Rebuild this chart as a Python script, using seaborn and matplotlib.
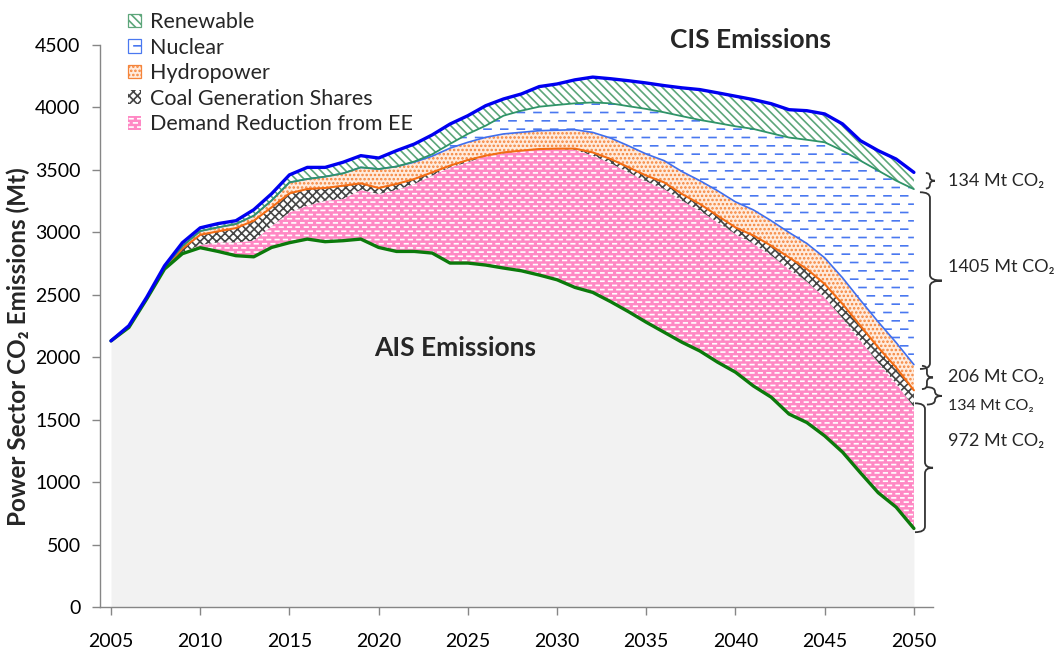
import numpy as np
import pandas as pd
import matplotlib
matplotlib.use("Agg")
import matplotlib.pyplot as plt
import matplotlib.hatch as mhatch
from matplotlib.path import Path
from matplotlib.patches import Patch, PathPatch
import seaborn as sns

# ---------------- data (Mt CO2) ----------------
years = list(range(2005, 2051))
ais = [2131, 2238, 2466, 2706, 2829, 2877, 2847, 2813, 2804, 2879,
       2917, 2946, 2925, 2933, 2946, 2879, 2847, 2847, 2834, 2754,
       2754, 2738, 2714, 2692, 2658, 2620, 2559, 2519, 2445, 2365,
       2280, 2200, 2120, 2050, 1960, 1880, 1770, 1680, 1545, 1477,
       1370, 1240, 1075, 915, 800, 629]
demand = [0, 0, 0, 2, 6, 23, 72, 106, 129, 171,
          243, 267, 328, 334, 393, 428, 492, 540, 620, 766,
          807, 872, 918, 960, 1007, 1047, 1101, 1095, 1107, 1115,
          1127, 1147, 1133, 1123, 1120, 1106, 1140, 1135, 1160, 1128,
          1110, 1070, 1060, 1040, 990, 972]
coal = [0, 3, 4, 6, 35, 80, 89, 115, 160, 150,
        152, 134, 102, 106, 53, 48, 48, 40, 26, 14,
        18, 4, 8, 2, 2, 3, 10, 26, 35, 41,
        47, 53, 54, 54, 53, 53, 65, 78, 94, 101,
        106, 116, 117, 123, 128, 134]
hydro = [0, 7, 4, 8, 20, 30, 32, 33, 40, 55,
         88, 80, 91, 99, 128, 152, 140, 135, 130, 140,
         142, 147, 148, 147, 147, 148, 152, 160, 168, 172,
         173, 174, 180, 187, 200, 205, 205, 200, 200, 205,
         210, 210, 205, 205, 200, 206]
nuclear = [0, 0, 0, 0, 0, 0, 0, 0, 0, 0,
           0, 0, 0, 0, 0, 0, 0, 5, 15, 34,
           67, 93, 146, 173, 192, 202, 211, 240, 278, 317,
           361, 387, 443, 486, 542, 605, 648, 700, 760, 830,
           925, 1018, 1117, 1211, 1296, 1405]
renewable = [0, 4, 6, 10, 27, 26, 30, 26, 48, 54,
             60, 93, 74, 89, 94, 88, 127, 140, 155, 159,
             146, 160, 134, 134, 161, 168, 188, 203, 197, 204,
             208, 214, 227, 243, 242, 241, 235, 237, 223, 233,
             227, 214, 160, 160, 173, 134]

legend_labels = ["Renewable", "Nuclear", "Hydropower",
                 "Coal Generation Shares", "Demand Reduction from EE"]
y_ticks = list(range(0, 4501, 500))
x_ticks = list(range(2005, 2051, 5))

df = pd.DataFrame({"year": years, "ais": ais, "demand": demand, "coal": coal,
                   "hydro": hydro, "nuclear": nuclear, "renewable": renewable})
df["b_dem"] = df.ais + df.demand
df["b_coal"] = df.b_dem + df.coal
df["b_hyd"] = df.b_coal + df.hydro
df["b_nuc"] = df.b_hyd + df.nuclear
df["b_top"] = df.b_nuc + df.renewable


# ---------------- dashed hatch (Excel-like dash pattern for '-') ----------------
class DashedHatch(mhatch.HatchPatternBase):
    def __init__(self, hatch, density):
        self.num_rows = int((hatch.count('-') + hatch.count('+')) * density)
        self.num_cols = max(self.num_rows // 2, 1) if self.num_rows else 0
        self.num_vertices = self.num_rows * self.num_cols * 2

    def set_vertices_and_codes(self, vertices, codes):
        rows, cols = self.num_rows, self.num_cols
        dash = 0.42 / cols
        k = 0
        for i in range(rows):
            y = (i + 0.5) / rows
            shift = 0.5 / cols if i % 2 else 0.0
            for j in range(cols):
                x0 = j / cols + shift + 0.04 / cols
                vertices[k] = (x0, y)
                vertices[k + 1] = (x0 + dash, y)
                codes[k] = Path.MOVETO
                codes[k + 1] = Path.LINETO
                k += 2


mhatch._hatch_types[0] = DashedHatch

# ---------------- style ----------------
sns.set_theme(style="white")
plt.rcParams["font.family"] = ["Lato", "DejaVu Sans"]
plt.rcParams["hatch.linewidth"] = 1.2

fig = plt.figure(figsize=(10.62, 6.54), dpi=100)
ax = fig.add_axes([100 / 1062, 1 - 607 / 654, 833 / 1062, 562 / 654])

x = df.year.values
styles = {
    "Renewable": dict(facecolor="white", edgecolor="#5DA67A", hatch="\\" * 4),
    "Nuclear": dict(facecolor="white", edgecolor="#4A78F0", hatch="--"),
    "Hydropower": dict(facecolor="#FFEBDD", edgecolor="#F5843A", hatch="...."),
    "Coal Generation Shares": dict(facecolor="white", edgecolor="#454545", hatch="xxxx"),
    "Demand Reduction from EE": dict(facecolor="#FF88C4", edgecolor="white", hatch="----"),
}

ax.fill_between(x, 0, df.ais, facecolor="#F2F2F2", lw=0, zorder=1)
ax.fill_between(x, df.ais, df.b_dem, lw=0, zorder=1, **styles["Demand Reduction from EE"])
ax.fill_between(x, df.b_dem, df.b_coal, lw=0, zorder=1, **styles["Coal Generation Shares"])
ax.fill_between(x, df.b_coal, df.b_hyd, lw=0, zorder=1, **styles["Hydropower"])
ax.fill_between(x, df.b_hyd, df.b_nuc, lw=0, zorder=1, **styles["Nuclear"])
ax.fill_between(x, df.b_nuc, df.b_top, lw=0, zorder=1, **styles["Renewable"])

sns.lineplot(data=df, x="year", y="b_coal", color="#F36C14", lw=1.5, ax=ax, zorder=3)
sns.lineplot(data=df, x="year", y="b_hyd", color="#3F6FEF", lw=1.2, ax=ax, zorder=3)
sns.lineplot(data=df, x="year", y="b_nuc", color="#2F9468", lw=1.3, ax=ax, zorder=3)
sns.lineplot(data=df, x="year", y="ais", color="#0B7A0B", lw=2.4, ax=ax, zorder=4)
sns.lineplot(data=df, x="year", y="b_top", color="#0000F0", lw=2.4, ax=ax, zorder=4)

ax.set_xlim(2004.383, 2051.07)
ax.set_ylim(0, 4500)
ax.set_xticks(x_ticks)
ax.set_xticklabels([str(t) for t in x_ticks])
ax.set_yticks(y_ticks)
ax.set_yticklabels([str(t) for t in y_ticks])
ax.set_xlabel("")
ax.set_ylabel("")
for s in ["top", "right"]:
    ax.spines[s].set_visible(False)
for s in ["left", "bottom"]:
    ax.spines[s].set_color("#868686")
    ax.spines[s].set_linewidth(1.0)
ax.tick_params(axis="both", which="major", direction="out", length=6, width=1,
               color="#868686", labelsize=14, labelcolor="black", pad=8,
               left=True, bottom=True)
ax.tick_params(axis="x", pad=13)

fig.text(18 / 1062, 1 - 347 / 654, "Power Sector CO₂ Emissions (Mt)", rotation=90,
         ha="center", va="center", fontsize=17.5, fontweight="bold")
fig.text(751 / 1062, 1 - 40 / 654, "CIS Emissions", ha="center", va="center",
         fontsize=19, fontweight="bold")
fig.text(455 / 1062, 1 - 348 / 654, "AIS Emissions", ha="center", va="center",
         fontsize=19, fontweight="bold")

# legend
handles = []
for lab in legend_labels:
    st = dict(styles[lab])
    lw = 0.9 if lab in ("Renewable", "Nuclear", "Hydropower") else 0
    handles.append(Patch(lw=lw, label=lab, **st))
fig.legend(handles=handles, loc="upper left", bbox_to_anchor=(128 / 1062, 1 - 12 / 654),
           bbox_transform=fig.transFigure, frameon=False, fontsize=15.5,
           handlelength=0.6, handleheight=0.6, handletextpad=0.4,
           labelspacing=0.26, borderpad=0, borderaxespad=0)


# ---------------- braces on the right ----------------
def brace(ax, xl, xm, xr, top, bottom, r):
    mid = (top + bottom) / 2
    r = min(r, (top - bottom) / 4)
    verts = [(xl, top), (xm, top), (xm, top - r), (xm, top - r),
             (xm, mid + r), (xm, mid), (xr, mid),
             (xm, mid), (xm, mid - r), (xm, mid - r),
             (xm, bottom + r), (xm, bottom), (xl, bottom)]
    codes = [Path.MOVETO, Path.CURVE3, Path.CURVE3, Path.LINETO,
             Path.LINETO, Path.CURVE3, Path.CURVE3,
             Path.CURVE3, Path.CURVE3, Path.LINETO,
             Path.LINETO, Path.CURVE3, Path.CURVE3]
    ax.add_patch(PathPatch(Path(verts, codes), fill=False, lw=1.3,
                           edgecolor="#333333", clip_on=False, zorder=5))


last = df.iloc[-1]
seg = {
    "renew": (last.b_top, last.b_nuc),
    "nuc": (last.b_nuc, last.b_hyd),
    "hyd": (last.b_hyd, last.b_coal),
    "coal": (last.b_coal, last.b_dem),
    "dem": (last.b_dem, last.ais),
}
brace(ax, 2050.67, 2050.90, 2051.18, seg["renew"][0] - 5, seg["renew"][1] + 5, 35)
brace(ax, 2050.34, 2050.90, 2051.57, seg["nuc"][0] - 25, seg["nuc"][1] - 35, 45)
brace(ax, 2050.45, 2050.73, 2051.07, seg["hyd"][0] - 10, seg["hyd"][1] + 10, 35)
brace(ax, 2050.73, 2051.18, 2051.57, seg["coal"][0] + 25, seg["coal"][1] + 20, 35)
brace(ax, 2050.06, 2050.62, 2051.07, seg["dem"][0] + 30, seg["dem"][1] - 30, 45)

lab_x = 2051.9
vals = [renewable[-1], nuclear[-1], hydro[-1], coal[-1], demand[-1]]
lab_y = [np.mean(seg["renew"]), np.mean(seg["nuc"]) + 80, np.mean(seg["hyd"]),
         np.mean(seg["coal"]) - 60, np.mean(seg["dem"]) + 215]
sizes = [13, 13, 13, 11.5, 13]
for v, yy, fs in zip(vals, lab_y, sizes):
    ax.text(lab_x, yy, f"{v} Mt CO₂", ha="left", va="center", fontsize=fs,
            clip_on=False, zorder=6)

fig.savefig("out.png", dpi=100)
